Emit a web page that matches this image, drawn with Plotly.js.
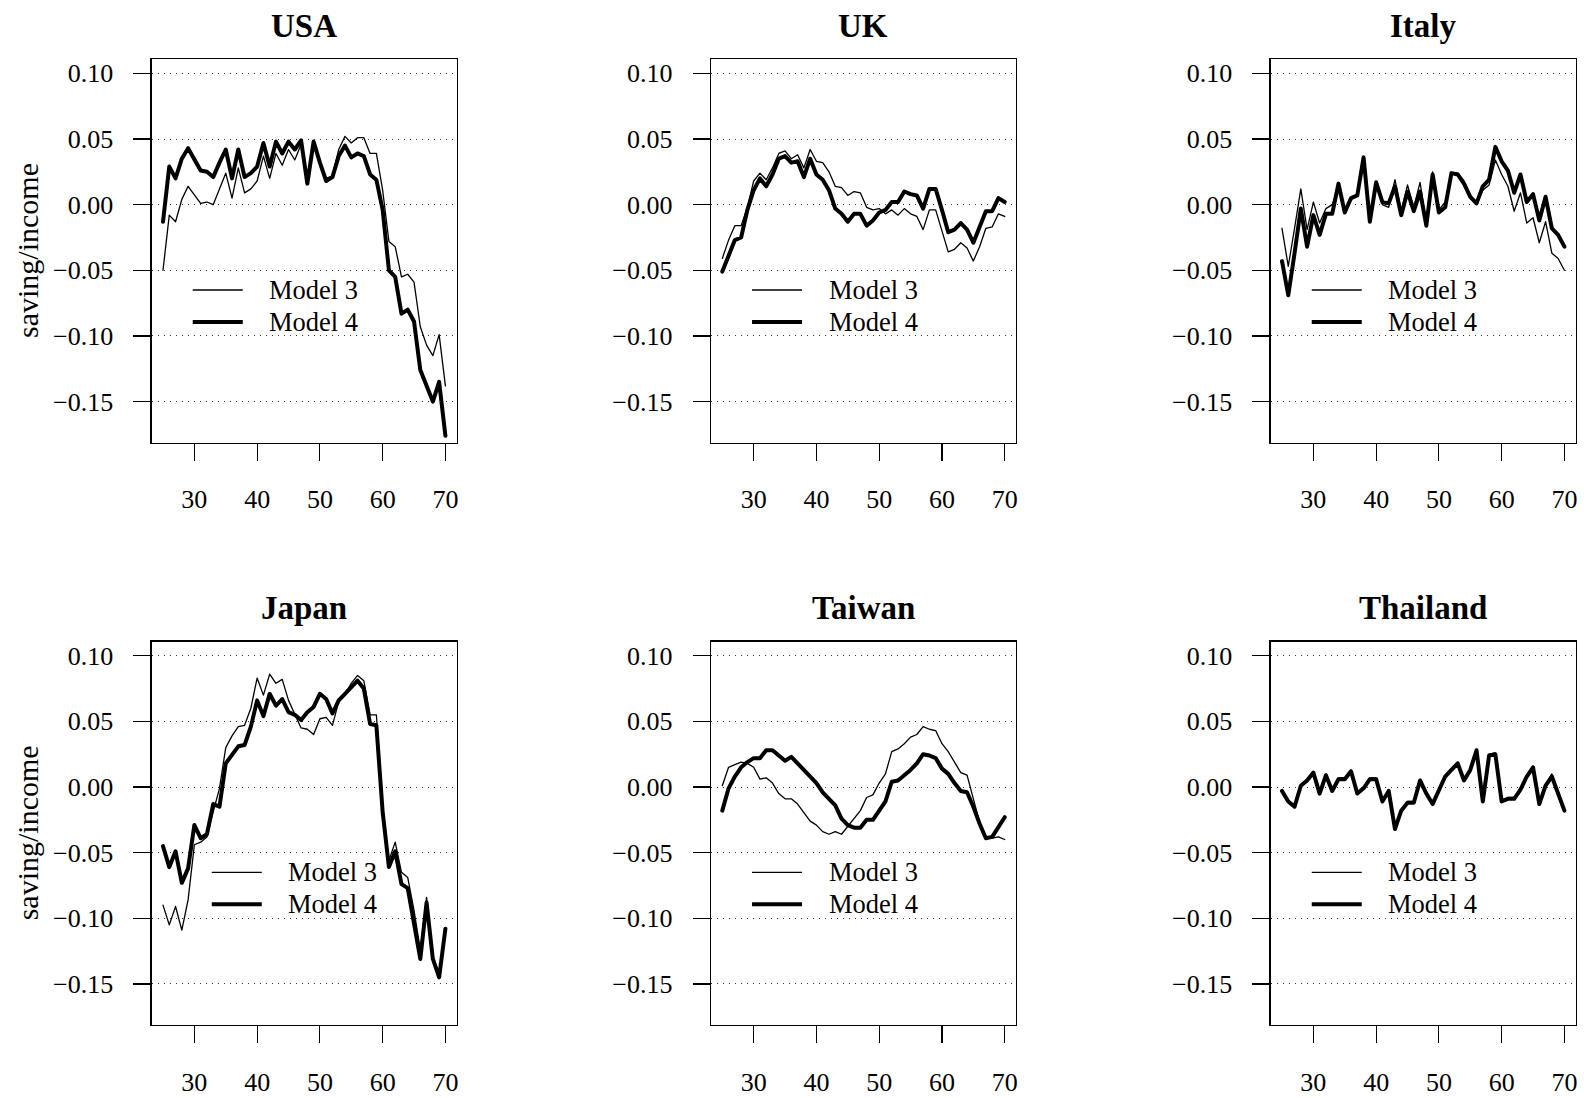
<!DOCTYPE html>
<html><head><meta charset="utf-8">
<script src="https://cdn.plot.ly/plotly-3.0.1.min.js"></script>
<style>
html,body{margin:0;padding:0;background:#fff}
path.js-line{stroke-linejoin:round;stroke-linecap:round}
</style>
</head><body>
<div id="chart" style="width:1584px;height:1098px"></div>
<script>
const ages = [25,26,27,28,29,30,31,32,33,34,35,36,37,38,39,40,41,42,43,44,45,46,47,48,49,50,51,52,53,54,55,56,57,58,59,60,61,62,63,64,65,66,67,68,69,70];

const usaM3 = [-0.050,-0.008,-0.013,0.004,0.014,0.007,0.001,0.002,0.000,0.012,0.024,0.005,0.028,0.009,0.012,0.018,0.037,0.020,0.039,0.030,0.042,0.034,0.046,0.019,0.047,0.033,0.020,0.022,0.042,0.052,0.047,0.051,0.051,0.039,0.039,0.011,-0.028,-0.032,-0.055,-0.053,-0.059,-0.093,-0.107,-0.115,-0.099,-0.138];
const usaM4 = [-0.013,0.029,0.020,0.035,0.043,0.035,0.026,0.025,0.021,0.032,0.042,0.020,0.042,0.021,0.024,0.029,0.047,0.029,0.048,0.039,0.048,0.042,0.049,0.016,0.048,0.032,0.018,0.021,0.037,0.045,0.036,0.039,0.037,0.023,0.019,-0.004,-0.050,-0.055,-0.083,-0.080,-0.089,-0.126,-0.139,-0.150,-0.135,-0.176];

const ukM3 = [-0.041,-0.027,-0.016,-0.016,-0.002,0.018,0.024,0.019,0.028,0.039,0.041,0.035,0.038,0.028,0.042,0.033,0.032,0.025,0.014,0.013,0.007,0.010,0.009,-0.002,-0.004,-0.003,-0.007,-0.004,-0.008,-0.003,-0.007,-0.009,-0.019,-0.004,-0.004,-0.021,-0.036,-0.034,-0.029,-0.033,-0.043,-0.032,-0.018,-0.017,-0.007,-0.009];
const ukM4 = [-0.051,-0.038,-0.027,-0.025,-0.004,0.011,0.020,0.014,0.023,0.035,0.037,0.032,0.033,0.021,0.035,0.023,0.019,0.011,-0.003,-0.007,-0.013,-0.007,-0.007,-0.016,-0.012,-0.006,-0.004,0.002,0.002,0.010,0.008,0.007,-0.003,0.012,0.012,-0.004,-0.021,-0.019,-0.014,-0.019,-0.029,-0.017,-0.005,-0.005,0.005,0.002];

const italyM3 = [-0.018,-0.047,-0.018,0.012,-0.019,0.002,-0.014,-0.003,0.000,0.014,-0.004,0.005,0.007,0.035,-0.010,0.016,0.000,-0.002,0.019,-0.005,0.015,-0.002,0.017,-0.014,0.025,-0.004,0.002,0.024,0.024,0.018,0.007,0.001,0.011,0.015,0.034,0.023,0.014,-0.005,0.009,-0.014,-0.010,-0.029,-0.013,-0.037,-0.041,-0.050];
const italyM4 = [-0.043,-0.069,-0.037,-0.003,-0.032,-0.008,-0.023,-0.007,-0.007,0.016,-0.006,0.005,0.007,0.036,-0.013,0.017,0.002,0.001,0.014,-0.008,0.010,-0.005,0.010,-0.016,0.023,-0.006,-0.002,0.024,0.023,0.016,0.006,0.001,0.014,0.019,0.044,0.033,0.026,0.009,0.023,0.002,0.008,-0.012,0.006,-0.018,-0.023,-0.032];

const japanM3 = [-0.090,-0.105,-0.091,-0.109,-0.086,-0.044,-0.042,-0.038,-0.019,-0.001,0.030,0.039,0.046,0.047,0.060,0.083,0.070,0.086,0.079,0.082,0.066,0.056,0.045,0.044,0.040,0.052,0.053,0.047,0.065,0.071,0.079,0.085,0.081,0.055,0.055,-0.013,-0.056,-0.042,-0.065,-0.069,-0.094,-0.124,-0.084,-0.129,-0.142,-0.108];
const japanM4 = [-0.045,-0.061,-0.049,-0.073,-0.062,-0.029,-0.039,-0.036,-0.013,-0.015,0.018,0.024,0.031,0.032,0.046,0.066,0.054,0.071,0.062,0.067,0.057,0.055,0.051,0.057,0.061,0.071,0.067,0.056,0.066,0.071,0.076,0.081,0.075,0.048,0.047,-0.019,-0.061,-0.049,-0.074,-0.077,-0.104,-0.131,-0.088,-0.131,-0.145,-0.108];

const taiwanM3 = [0.001,0.015,0.017,0.019,0.018,0.015,0.006,0.007,0.003,-0.005,-0.009,-0.009,-0.013,-0.020,-0.026,-0.029,-0.034,-0.036,-0.034,-0.036,-0.030,-0.024,-0.018,-0.008,-0.006,0.003,0.010,0.027,0.029,0.033,0.038,0.040,0.046,0.044,0.043,0.033,0.027,0.019,0.011,0.009,-0.008,-0.027,-0.039,-0.039,-0.038,-0.040];
const taiwanM4 = [-0.018,-0.001,0.008,0.015,0.019,0.022,0.022,0.028,0.028,0.024,0.020,0.023,0.018,0.013,0.007,0.003,-0.004,-0.009,-0.014,-0.024,-0.029,-0.031,-0.031,-0.025,-0.025,-0.018,-0.011,0.004,0.005,0.009,0.013,0.018,0.025,0.024,0.022,0.014,0.010,0.003,-0.003,-0.004,-0.015,-0.028,-0.039,-0.038,-0.031,-0.023];

const thaiM3 = [-0.002,-0.010,-0.014,0.002,0.006,0.011,-0.004,0.010,-0.002,0.007,0.007,0.013,-0.004,0.000,0.007,0.007,-0.010,-0.002,-0.031,-0.017,-0.011,-0.011,0.006,-0.004,-0.012,-0.001,0.009,0.014,0.019,0.006,0.014,0.028,-0.010,0.025,0.026,-0.010,-0.008,-0.008,-0.001,0.009,0.016,-0.012,0.002,0.010,-0.004,-0.017];
const thaiM4 = [-0.003,-0.011,-0.015,0.001,0.005,0.011,-0.005,0.009,-0.003,0.006,0.006,0.012,-0.005,-0.001,0.006,0.006,-0.011,-0.003,-0.032,-0.018,-0.012,-0.012,0.005,-0.005,-0.013,-0.002,0.008,0.013,0.018,0.005,0.013,0.028,-0.011,0.024,0.025,-0.011,-0.009,-0.009,-0.002,0.008,0.015,-0.013,0.001,0.008,-0.005,-0.018];

const countries = ['USA','UK','Italy','Japan','Taiwan','Thailand'];
const model3 = [usaM3, ukM3, italyM3, japanM3, taiwanM3, thaiM3];
const model4 = [usaM4, ukM4, italyM4, japanM4, taiwanM4, thaiM4];
const legendNames = ['Model 3','Model 4'];
const xTicks = [30,40,50,60,70];
const yTicks = [-0.15,-0.10,-0.05,0.00,0.05,0.10];
const yLabel = 'saving/income';

// layout helpers (positions only)
const W = 1584, H = 1098;
const colPx = [[151.7,456.7],[711,1016],[1270.7,1575.7]];
const rowPx = [[59.3,442.7],[641.7,1025]];
const legStart = [29.74,29.74,29.74,32.77,29.74,29.74];
const FONT = '"Liberation Serif","Times New Roman",Times,serif';

const traces = [];
const layout = {
  width: W, height: H,
  margin: {l:0,r:0,t:0,b:0},
  paper_bgcolor: '#fff', plot_bgcolor: '#fff',
  showlegend: false,
  font: {family: FONT, color: '#000', size: 26},
  annotations: [], shapes: []
};

countries.forEach((c, i) => {
  const row = Math.floor(i/3), col = i%3;
  const sfx = i === 0 ? '' : String(i+1);
  const xa = 'x'+sfx, ya = 'y'+sfx;
  traces.push({x: ages, y: model3[i], type:'scatter', mode:'lines', xaxis: xa, yaxis: ya,
    name: legendNames[0], line:{color:'#000', width:1.3}, hoverinfo:'skip'});
  traces.push({x: ages, y: model4[i], type:'scatter', mode:'lines', xaxis: xa, yaxis: ya,
    name: legendNames[1], line:{color:'#000', width:4}, hoverinfo:'skip'});
  const xd = [colPx[col][0]/W, colPx[col][1]/W];
  const yd = [1 - rowPx[row][1]/H, 1 - rowPx[row][0]/H];
  layout['xaxis'+sfx] = {
    domain: xd, anchor: ya, range: [23.2, 71.8],
    tickmode:'array', tickvals: xTicks, ticks:'outside', ticklen:17, tickwidth:1.2, tickcolor:'#000',
    ticklabelstandoff: 16,
    showline:true, mirror:true, linecolor:'#000', linewidth:1.3,
    showgrid:false, zeroline:false, tickfont:{family:FONT, size:26, color:'#000'}
  };
  layout['yaxis'+sfx] = {
    domain: yd, anchor: xa, range: [-0.1813, 0.1107],
    tickmode:'array', tickvals: yTicks, tickformat:'.2f', ticks:'outside', ticklen:17, tickwidth:1.2, tickcolor:'#000',
    ticklabelstandoff: 15,
    showline:true, mirror:true, linecolor:'#000', linewidth:1.3,
    showgrid:true, gridcolor:'#333', gridwidth:1, griddash:'1px,5px',
    zeroline:false, tickfont:{family:FONT, size:26, color:'#000'}
  };
  // title
  layout.annotations.push({
    text: '<b>'+c+'</b>', xref:'paper', yref:'paper',
    x: (xd[0]+xd[1])/2, y: 1 - (rowPx[row][0]-33.6)/H, xanchor:'center', yanchor:'middle',
    showarrow:false, font:{family:FONT, size:33, color:'#000'}
  });
  // legend
  const lx = legStart[i];
  [[-0.065,1.3,legendNames[0]],[-0.0894,4,legendNames[1]]].forEach(([yy,w,t]) => {
    layout.shapes.push({type:'line', xref:xa, yref:ya, x0:lx, x1:lx+7.97, y0:yy, y1:yy,
      line:{color:'#000', width:w}});
    layout.annotations.push({text:t, xref:xa, yref:ya, x:lx+11.89, y:yy, xanchor:'left', yanchor:'middle',
      showarrow:false, font:{family:FONT, size:26.5, color:'#000'}});
  });
  if (col === 0) {
    layout.annotations.push({text: yLabel, xref:'paper', yref:'paper', x: 27/W,
      y: 1 - (rowPx[row][0]+rowPx[row][1])/2/H, xanchor:'center', yanchor:'middle', textangle:-90,
      showarrow:false, font:{family:FONT, size:30, color:'#000'}});
  }
});

Plotly.newPlot('chart', traces, layout, {staticPlot:true, displayModeBar:false});
</script>
</body></html>
